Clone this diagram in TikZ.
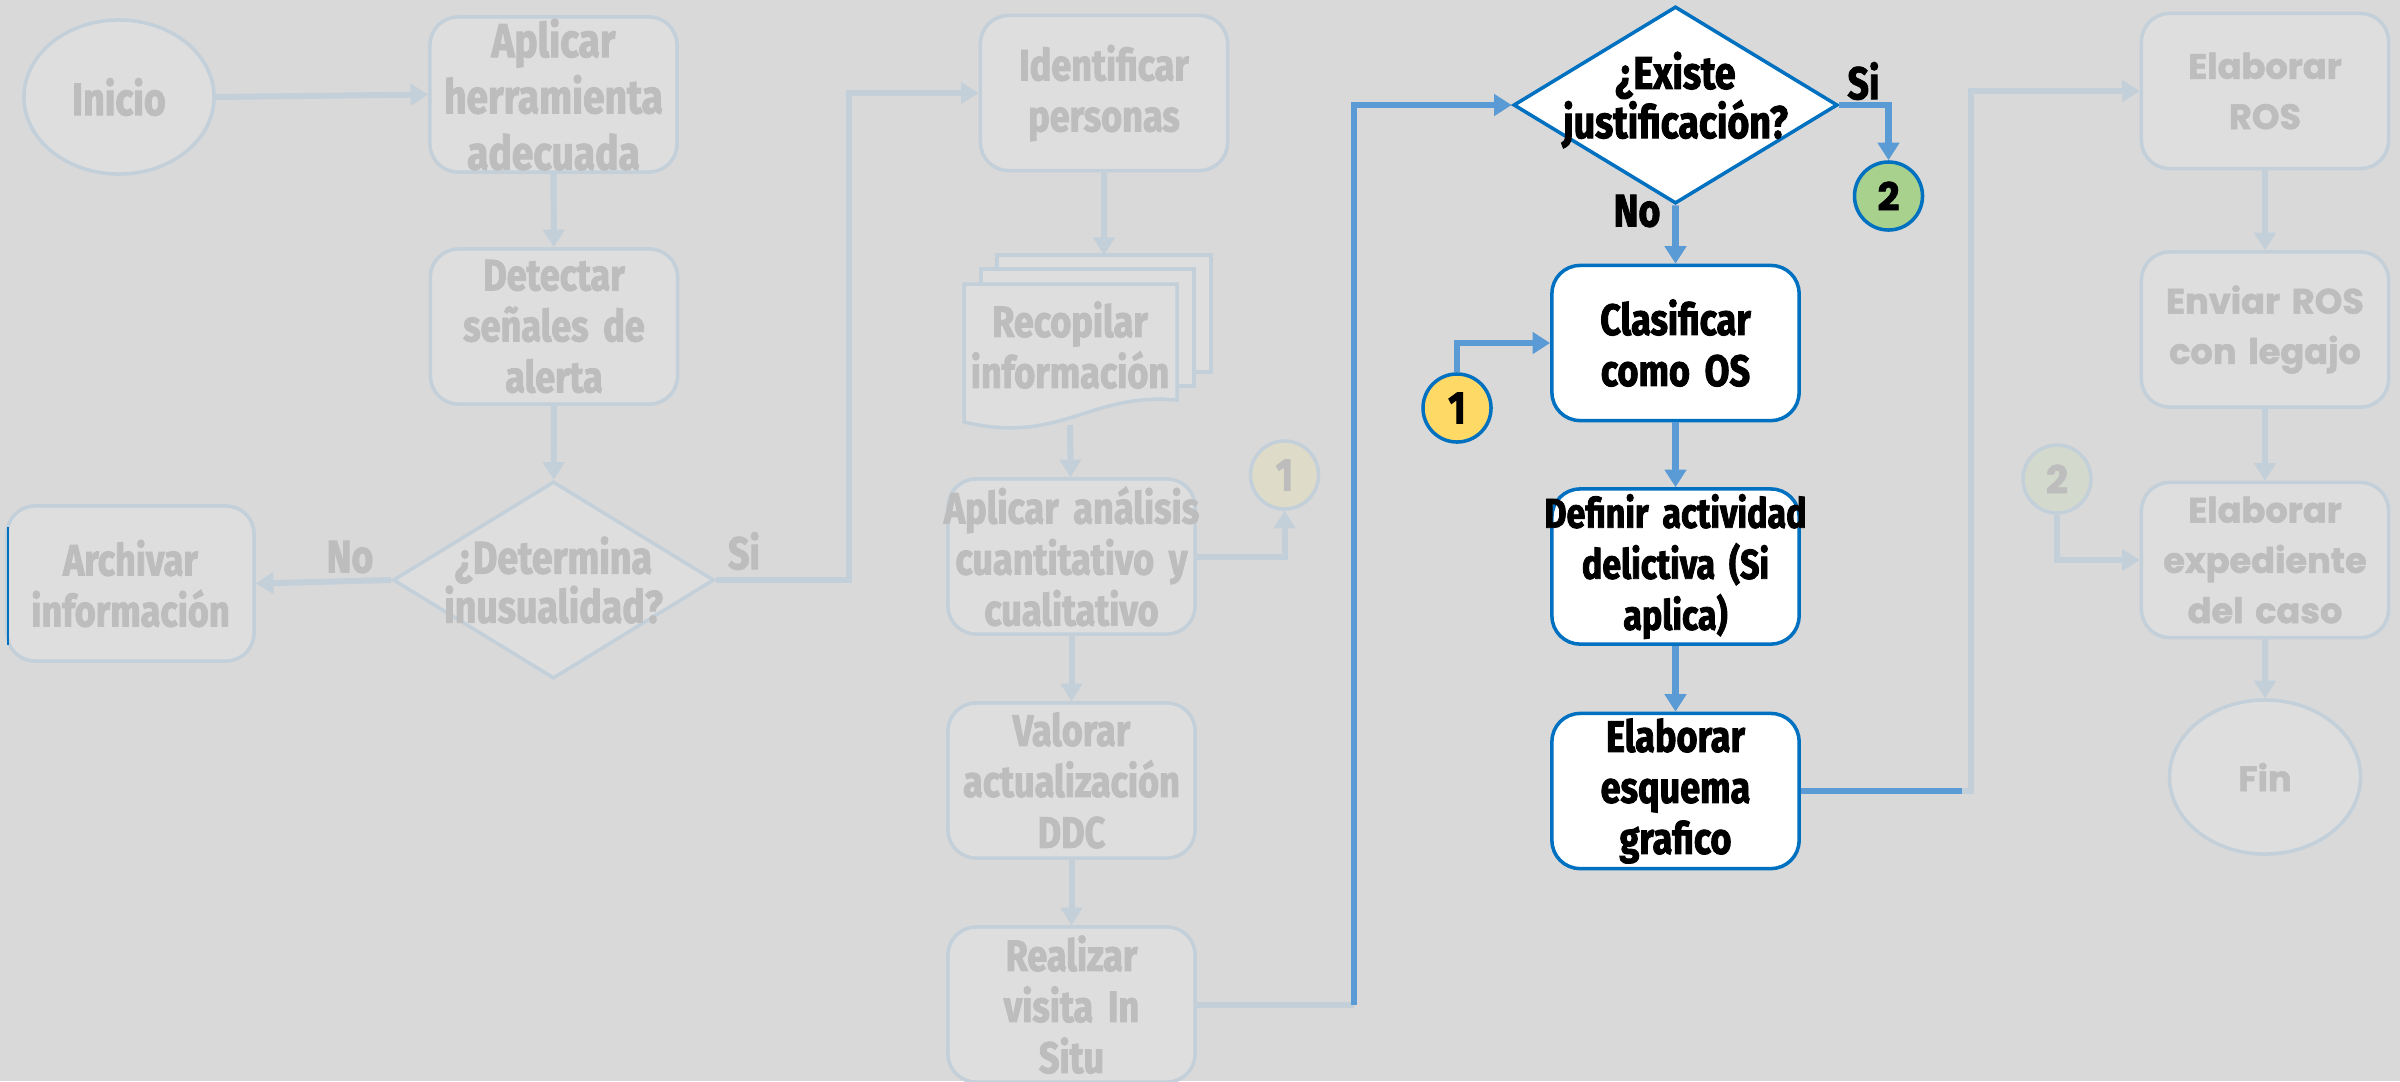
\documentclass[tikz,border=0pt]{standalone}
\usepackage{fontspec}
\newfontfamily\narrowfont{Fira Sans}[FakeStretch=0.82,BoldFeatures={FakeBold=2}]
\newfontfamily\widefont{Poppins}[BoldFeatures={FakeBold=1.5}]
\usetikzlibrary{shapes.geometric,arrows.meta}

\definecolor{bgcol}{HTML}{D9D9D9}
\definecolor{fadefill}{HTML}{DEDEDE}
\definecolor{fadeedge}{HTML}{C3D0DA}
\definecolor{fadetext}{HTML}{BDBDBD}
\definecolor{bluelink}{HTML}{5B9BD5}
\definecolor{blueedge}{HTML}{0070C0}
\definecolor{yellowfill}{HTML}{FFD966}
\definecolor{greenfill}{HTML}{A9D18E}
\definecolor{fadeyellow}{HTML}{DEDBC8}
\definecolor{fadegreen}{HTML}{D3D9CD}

\tikzset{
  fadeshape/.style={draw=fadeedge,fill=fadefill,line width=1pt,text=fadetext},
  fadebox/.style={fadeshape,rounded corners=0.28cm,minimum width=2.47cm,minimum height=1.55cm,
    inner ysep=0pt,inner xsep=-0.3cm,text width=3.07cm,align=center,
    font=\narrowfont\bfseries\fontsize{12.5}{14.5}\selectfont},
  activebox/.style={fadebox,draw=blueedge,fill=white,line width=1pt,text=black},
  widebox/.style={fadebox,font=\widefont\bfseries\fontsize{10}{14.3}\selectfont},
  fadetag/.style={text=fadetext,align=center,font=\narrowfont\bfseries\fontsize{13}{14}\selectfont},
  activetag/.style={fadetag,text=black},
  joint/.style={circle,minimum size=0.68cm,inner sep=0pt,line width=1pt},
  fadewire/.style={draw=fadeedge,line width=1.7pt},
  fadelink/.style={fadewire,-{Triangle[width=6pt,length=5pt]}},
  activewire/.style={draw=bluelink,line width=1.9pt},
  activelink/.style={activewire,-{Triangle[width=6pt,length=5pt]}}
}

\begin{document}
\begin{tikzpicture}[x=0.01cm,y=-0.01cm]
\fill[bgcol] (0,0) rectangle (2400,1081);
\useasboundingbox (0,0) rectangle (2400,1081);

\node[ellipse,fadeshape,minimum width=1.9cm,minimum height=1.54cm,font=\narrowfont\bfseries\fontsize{13}{14}\selectfont] (inicio) at (119,97) {Inicio};
\node[fadebox,font=\narrowfont\bfseries\fontsize{13.5}{16}\selectfont] (aplicar) at (553.5,94.5) {Aplicar\\herramienta\\adecuada};
\node[fadebox] (detectar) at (554,326.5) {Detectar\\señales de\\alerta};
\node[diamond,fadeshape,minimum width=3.21cm,minimum height=1.97cm,inner sep=0pt] (determina) at (553.5,580) {};
\node[fadetag] (determinatxt) at (553.5,580) {¿Determina\\inusualidad?};
\node[fadebox] (archivar) at (130.5,583.5) {Archivar\\información};
\draw[blueedge,line width=0.5pt] (8,527) -- (8,645);
\node[fadetag] (notag1) at (350,557) {No};
\node[fadetag] (sitag1) at (744,551) {Si};

\node[fadebox] (identificar) at (1104,93) {Identificar\\personas};
\draw[fadeshape] (997,255) rectangle (1211,372);
\draw[fadeshape] (981,269) rectangle (1194,386);
\draw[fadeshape] (964,284) -- (1177,284) -- (1177,400) .. controls (1090,392) and (1060,445) .. (964,422) -- cycle;
\node[fadetag,font=\narrowfont\bfseries\fontsize{12.5}{14.5}\selectfont] (recop) at (1070,345) {Recopilar\\información};
\coordinate (recopin) at (1104,255);
\coordinate (recopout) at (1070,425);
\node[fadebox] (analisis) at (1071.5,556.5) {Aplicar análisis\\cuantitativo y\\cualitativo};
\node[fadebox] (valorar) at (1071.5,780.5) {Valorar\\actualización\\DDC};
\node[fadebox] (realizar) at (1071.5,1004.5) {Realizar\\visita In\\Situ};
\node[joint,fadeshape,fill=fadeyellow,font=\narrowfont\bfseries\fontsize{13}{14}\selectfont] (joinfade1) at (1284.5,475) {1};
\coordinate (bend1) at (1354,1004.5);

\node[diamond,draw=blueedge,fill=white,line width=1pt,minimum width=3.24cm,minimum height=1.97cm,inner sep=0pt] (existe) at (1675.5,105) {};
\node[activetag] (existetxt) at (1675.5,100) {¿Existe\\justificación?};
\node[activetag] (notag2) at (1637,211) {No};
\node[activetag] (sitag2) at (1863.5,81) {Si};
\node[activebox] (clasificar) at (1675.5,343) {Clasificar\\como OS};
\node[activebox,font=\narrowfont\bfseries\fontsize{11.8}{14.5}\selectfont] (definir) at (1675.5,566.5) {Definir actividad\\delictiva (Si\\aplica)};
\node[activebox] (esquema) at (1675.5,791) {Elaborar\\esquema\\grafico};
\node[joint,draw=blueedge,fill=yellowfill,font=\narrowfont\bfseries\fontsize{13}{14}\selectfont] (join1) at (1457,408) {1};
\node[joint,draw=blueedge,fill=greenfill,font=\widefont\bfseries\fontsize{11}{12}\selectfont] (join2) at (1888.5,196) {2};
\coordinate (bend2) at (1962,791);

\node[widebox] (ros) at (2265,91) {Elaborar\\ROS};
\node[widebox] (enviar) at (2265,329.5) {Enviar ROS\\con legajo};
\node[widebox] (expediente) at (2265,560) {Elaborar\\expediente\\del caso};
\node[ellipse,fadeshape,minimum width=1.91cm,minimum height=1.54cm,font=\widefont\bfseries\fontsize{10}{12}\selectfont] (fin) at (2265,777) {Fin};
\node[joint,fadeshape,fill=fadegreen,font=\widefont\bfseries\fontsize{11}{12}\selectfont] (joinfade2) at (2057,479) {2};

\draw[fadelink] (inicio.east) -- (aplicar.west);
\draw[fadelink] (aplicar) -- (detectar);
\draw[fadelink] (detectar) -- (determina);
\draw[fadelink] (determina.west) -- (archivar.east);
\draw[fadelink] (determina.east) -- ++(133,0) |- (identificar.west);
\draw[fadelink] (identificar) -- (recopin);
\draw[fadelink] (recopout) -- (analisis);
\draw[fadelink] (analisis.east) -| (joinfade1.south);
\draw[fadelink] (analisis) -- (valorar);
\draw[fadelink] (valorar) -- (realizar);
\draw[fadewire] (realizar.east) -- (bend1);

\draw[activelink] (bend1) |- (existe.west);
\draw[activelink] (existe.east) -| (join2.north);
\draw[activelink] (existe) -- (clasificar);
\draw[activelink] (join1.north) |- (clasificar.west);
\draw[activelink] (clasificar) -- (definir);
\draw[activelink] (definir) -- (esquema);
\draw[activewire] (esquema.east) -- (bend2);

\draw[fadelink] (bend2) -- ++(9,0) |- (ros.west);
\draw[fadelink] (ros) -- (enviar);
\draw[fadelink] (enviar) -- (expediente);
\draw[fadelink] (expediente) -- (fin);
\draw[fadelink] (joinfade2.south) |- (expediente.west);
\end{tikzpicture}
\end{document}
